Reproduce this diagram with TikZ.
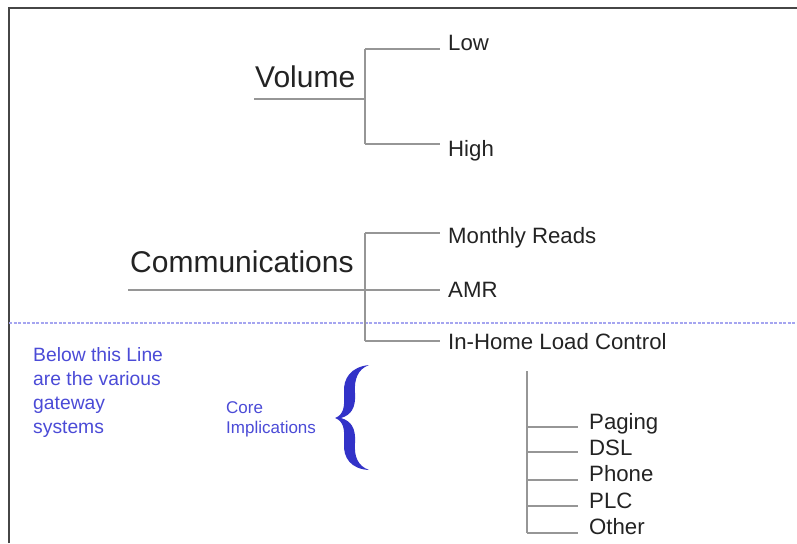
\documentclass[tikz,border=0pt]{standalone}
\usepackage{fontspec}
\setmainfont{Liberation Sans}
\definecolor{inkgray}{RGB}{35,35,35}
\definecolor{branchgray}{RGB}{150,150,150}
\definecolor{framegray}{RGB}{70,70,70}
\definecolor{noteblue}{RGB}{75,75,215}
\definecolor{braceblue}{RGB}{50,50,200}
\definecolor{lineblue}{RGB}{165,165,240}
\tikzset{
  branch/.style={draw=branchgray, line width=1.3pt},
  heading/.style={anchor=base west, inner sep=0pt, text=inkgray, font=\fontsize{30}{32}\selectfont},
  leaf/.style={anchor=base west, inner sep=0pt, text=inkgray, font=\fontsize{22.2}{24}\selectfont},
  note/.style={anchor=base west, inner sep=0pt, text=noteblue, align=left, font=\fontsize{19.3}{24}\selectfont},
  smallnote/.style={anchor=base west, inner sep=0pt, text=noteblue, align=left, font=\fontsize{17}{20}\selectfont},
}
\begin{document}
\begin{tikzpicture}[x=1pt,y=-1pt]
\useasboundingbox (0,0) rectangle (797,543);
\fill[white] (0,0) rectangle (797,543);

% frame
\draw[framegray, line width=1.6pt] (9,543) -- (9,8) -- (797,8);

% separator for the gateway systems
\draw[lineblue, line width=1.2pt, dash pattern=on 3pt off 1.5pt] (9,323) -- (797,323);

% ---- Volume ----
\node[heading] (volume) at (255,87) {Volume};
\coordinate (vstart) at (254,99);
\coordinate (vroot) at (365,99);
\coordinate (vtop) at (365,49);
\coordinate (vbot) at (365,144);
\coordinate (lowend) at (440,49);
\coordinate (highend) at (440,144);
\node[leaf] (low) at (448,51) {Low};
\node[leaf] (high) at (448,156) {High};
\draw[branch] (vstart) -- (vroot);
\draw[branch] (vtop) -- (vbot);
\draw[branch] (vtop) -- (lowend);
\draw[branch] (vbot) -- (highend);

% ---- Communications ----
\node[heading] (comm) at (130,272) {Communications};
\coordinate (cstart) at (128,290);
\coordinate (ctop) at (365,233);
\coordinate (cbot) at (365,341);
\coordinate (cmid) at (365,290);
\coordinate (monthend) at (440,233);
\coordinate (amrend) at (440,290);
\coordinate (homeend) at (440,341);
\node[leaf] (monthly) at (448,243) {Monthly Reads};
\node[leaf] (amr) at (448,297) {AMR};
\node[leaf] (inhome) at (448,349) {In-Home Load Control};
\draw[branch] (cstart) -- (amrend);
\draw[branch] (ctop) -- (cbot);
\draw[branch] (ctop) -- (monthend);
\draw[branch] (cbot) -- (homeend);

% ---- gateway systems ----
\coordinate (gtop) at (527,371);
\coordinate (g1) at (527,427);
\coordinate (g2) at (527,452);
\coordinate (g3) at (527,480);
\coordinate (g4) at (527,506);
\coordinate (g5) at (527,533);
\coordinate (e1) at (578,427);
\coordinate (e2) at (578,452);
\coordinate (e3) at (578,480);
\coordinate (e4) at (578,506);
\coordinate (e5) at (578,533);
\node[leaf] (paging) at (589,429) {Paging};
\node[leaf] (dsl) at (589,455) {DSL};
\node[leaf] (phone) at (589,481) {Phone};
\node[leaf] (plc) at (589,508) {PLC};
\node[leaf] (other) at (589,534) {Other};
\draw[branch] (gtop) -- (g5);
\foreach \i in {1,...,5} { \draw[branch] (g\i) -- (e\i); }

% ---- notes (placed by the baseline of their last line) ----
\node[note] (below) at (33,433) {Below this Line\\are the various\\gateway\\systems};
\node[smallnote] (core) at (226,433) {Core\\Implications};

% curly brace
\fill[braceblue]
  (369,365) .. controls (351,367) and (343,378) .. (344,393)
  .. controls (345,408) and (343,415) .. (335,418)
  .. controls (343,421) and (345,428) .. (344,443)
  .. controls (343,458) and (351,469) .. (369,470)
  .. controls (358,466) and (354,457) .. (355,443)
  .. controls (356,428) and (351,421) .. (341,418)
  .. controls (351,415) and (356,408) .. (355,393)
  .. controls (354,379) and (358,369) .. (369,365) -- cycle;
\end{tikzpicture}
\end{document}
